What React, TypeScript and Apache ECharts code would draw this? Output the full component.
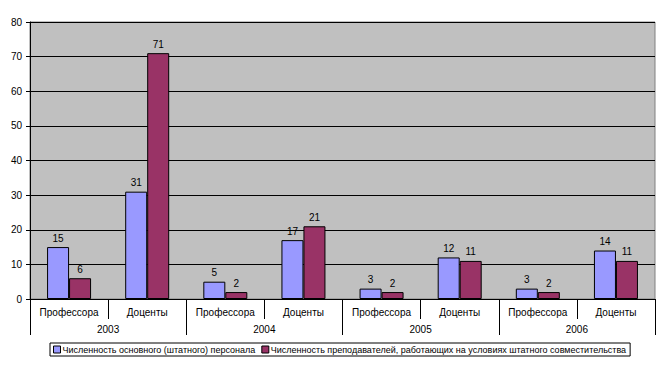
import React, { useEffect, useRef } from "react";
import * as echarts from "echarts";

const categories = ["Профессора", "Доценты", "Профессора", "Доценты", "Профессора", "Доценты", "Профессора", "Доценты"];
const years = ["2003", "2004", "2005", "2006"];
const seriesNames = [
  "Численность основного (штатного) персонала",
  "Численность преподавателей, работающих на условиях штатного совместительства",
];
const staffValues = [15, 31, 5, 17, 3, 12, 3, 14];
const partTimeValues = [6, 71, 2, 21, 2, 11, 2, 11];

export default function App() {
  const ref = useRef<HTMLDivElement>(null);
  useEffect(() => {
    if (!ref.current) return;
    const chart = echarts.init(ref.current, null, { renderer: "svg" });
    const font = "Arial, 'Liberation Sans', sans-serif";
    chart.setOption({
      animation: false,
      textStyle: { fontFamily: font },
      grid: {
        left: 30,
        right: 12,
        top: 22,
        bottom: 66,
        show: true,
        backgroundColor: "#C0C0C0",
        borderColor: "#808080",
        borderWidth: 1,
      },
      legend: {
        data: seriesNames,
        left: 50,
        top: 343,
        width: 610,
        padding: [2, 4, 2, 3],
        itemWidth: 7,
        itemHeight: 7,
        itemGap: 6,
        icon: "rect",
        borderColor: "#000",
        borderWidth: 1,
        borderRadius: 0,
        textStyle: { fontSize: 9, color: "#000", fontFamily: font, padding: [0, 0, 0, -3] },
        itemStyle: { borderColor: "#000", borderWidth: 1 },
      },
      xAxis: [
        {
          type: "category",
          data: categories,
          position: "bottom",
          axisLine: { lineStyle: { color: "#000", width: 1 } },
          axisTick: { show: true, interval: 0, length: 20, lineStyle: { color: "#000" } },
          axisLabel: { interval: 0, fontSize: 10, color: "#000", margin: 8, fontFamily: font },
        },
        {
          type: "category",
          data: years,
          position: "bottom",
          axisLine: { lineStyle: { color: "#000", width: 1 } },
          axisTick: { show: true, interval: 0, length: 36, lineStyle: { color: "#000" } },
          axisLabel: { interval: 0, fontSize: 10, color: "#000", margin: 25, fontFamily: font },
        },
      ],
      yAxis: {
        type: "value",
        min: 0,
        max: 80,
        interval: 10,
        axisLine: { show: true, lineStyle: { color: "#000" } },
        axisTick: { show: true, length: 4, lineStyle: { color: "#000" } },
        axisLabel: { fontSize: 10, color: "#000", margin: 8, fontFamily: font },
        splitLine: { show: true, lineStyle: { color: "#000", width: 1 } },
      },
      series: [
        {
          name: seriesNames[0],
          type: "bar",
          xAxisIndex: 0,
          data: staffValues,
          barWidth: 22,
          barGap: "0%",
          itemStyle: { color: "#9999FF", borderColor: "#000", borderWidth: 1 },
          label: { show: true, position: "top", fontSize: 10, color: "#000", distance: 4, fontFamily: font },
        },
        {
          name: seriesNames[1],
          type: "bar",
          xAxisIndex: 0,
          data: partTimeValues,
          barWidth: 22,
          barGap: "0%",
          itemStyle: { color: "#993366", borderColor: "#000", borderWidth: 1 },
          label: { show: true, position: "top", fontSize: 10, color: "#000", distance: 4, fontFamily: font },
        },
      ],
    });
    return () => chart.dispose();
  }, []);
  return <div ref={ref} style={{ width: 667, height: 365, position: "absolute", left: 0, top: 0 }} />;
}
